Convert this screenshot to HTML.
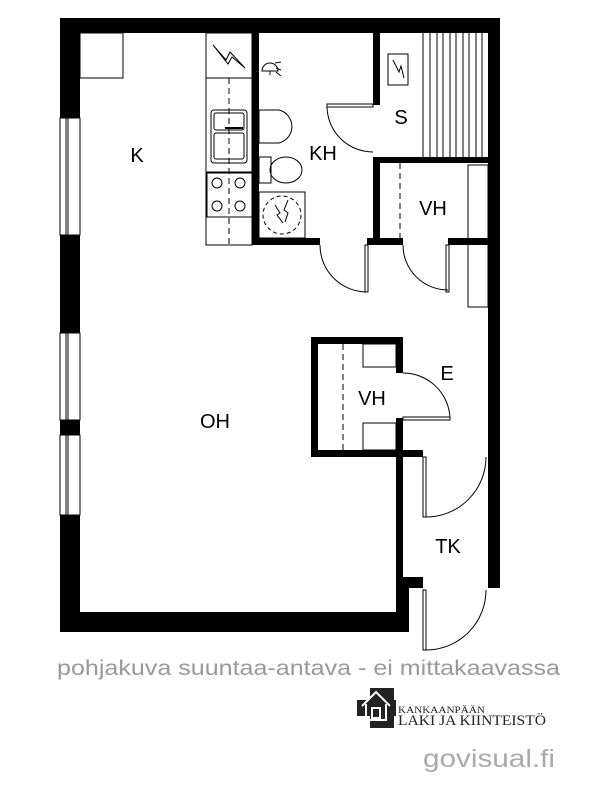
<!DOCTYPE html>
<html><head><meta charset="utf-8"><style>
html,body{margin:0;padding:0;background:#fff;}
svg{display:block;}
</style></head><body>
<svg width="600" height="796" viewBox="0 0 600 796" xmlns="http://www.w3.org/2000/svg" font-family="Liberation Sans, sans-serif">
<g fill="#000">
<rect x="60" y="18" width="440" height="15"/>
<rect x="60" y="18" width="20" height="614"/>
<rect x="488" y="18" width="12" height="570"/>
<rect x="60" y="612" width="349" height="20"/>
<rect x="396" y="450" width="7" height="182"/>
<rect x="403" y="588" width="6" height="44"/>
<rect x="403" y="577" width="20" height="11"/>
<rect x="403" y="450" width="20" height="7"/>
<rect x="252" y="33" width="7" height="212"/>
<rect x="252" y="238" width="68" height="7"/>
<rect x="367" y="238" width="36" height="7"/>
<rect x="448" y="238" width="40" height="7"/>
<rect x="373" y="33" width="7" height="72"/>
<rect x="373" y="157" width="115" height="6"/>
<rect x="373" y="157" width="7" height="88"/>
<rect x="311" y="337" width="92" height="7"/>
<rect x="311" y="450" width="92" height="7"/>
<rect x="311" y="337" width="7" height="120"/>
<rect x="396" y="337" width="7" height="36"/>
<rect x="396" y="418" width="7" height="39"/>
</g>
<g fill="#fff" stroke="#000" stroke-width="1">
<rect x="60" y="118" width="20" height="117"/>
<rect x="60" y="333" width="20" height="87"/>
<rect x="60" y="435" width="20" height="80"/>
</g>
<g stroke="#000" stroke-width="1">
<line x1="66" y1="118" x2="66" y2="235"/><line x1="68" y1="118" x2="68" y2="235"/>
<line x1="66" y1="333" x2="66" y2="420"/><line x1="68" y1="333" x2="68" y2="420"/>
<line x1="66" y1="435" x2="66" y2="515"/><line x1="68" y1="435" x2="68" y2="515"/>
</g>
<g fill="none" stroke="#000" stroke-width="1">
<rect x="80" y="33" width="43" height="45"/>
<rect x="206" y="33" width="46" height="212"/>
<line x1="206" y1="78" x2="252" y2="78"/>
<line x1="206" y1="172" x2="252" y2="172"/>
<line x1="206" y1="217" x2="252" y2="217"/>
<line x1="229" y1="78" x2="229" y2="245" stroke-dasharray="6,4"/>
<polyline points="213,45 226,60 230,52 245,68 232,57 228,64 213,45"/>
<rect x="211" y="110" width="36" height="53" rx="3"/>
<rect x="214" y="113" width="30" height="17" rx="2"/>
<rect x="214" y="133" width="30" height="26" rx="2"/>
<line x1="225" y1="128" x2="243" y2="128" stroke-width="2"/>
<rect x="207" y="173" width="45" height="44"/>
<circle cx="217" cy="183" r="5"/><circle cx="240" cy="183" r="5"/>
<circle cx="217" cy="206" r="5"/><circle cx="240" cy="206" r="5"/>
<path d="M262,71 a8,8 0 0 1 16,0 z"/>
<path d="M270,71 v4 M276,68 l5,2 M276,72 l5,4 M275,63 l6,-1"/>
<path d="M259,110 h20 a17,17 0 0 1 0,33 h-20 z"/>
<path d="M259,157 h12 v26 h-12 z"/>
<ellipse cx="286" cy="170" rx="16" ry="13"/>
<rect x="259" y="192" width="46" height="46"/>
<circle cx="282" cy="215" r="19" stroke-dasharray="4,3"/>
<path d="M275,205 l5,8 l-3,2 l6,8 M288,200 l-4,10 l4,3 l-3,9"/>
<rect x="388" y="54" width="20" height="31"/>
<polyline points="393,60 399,72 401,66 404,78"/>
<line x1="423" y1="33" x2="423" y2="157"/>
<line x1="430" y1="33" x2="430" y2="157"/>
<line x1="437" y1="33" x2="437" y2="157"/>
<line x1="443" y1="33" x2="443" y2="157"/>
<line x1="450" y1="33" x2="450" y2="157"/>
<line x1="456" y1="33" x2="456" y2="157"/>
<line x1="463" y1="33" x2="463" y2="157"/>
<line x1="469" y1="33" x2="469" y2="157"/>
<line x1="476" y1="33" x2="476" y2="157"/>
<line x1="482" y1="33" x2="482" y2="157"/>
<path d="M327,106 h46 M327,106 A46,46 0 0 0 373,152"/>
<rect x="327" y="104" width="46" height="3" fill="#fff"/>
<rect x="365" y="245" width="3" height="47" fill="#fff"/>
<path d="M320,245 A47,47 0 0 0 367,292"/>
<rect x="446" y="245" width="3" height="47" fill="#fff"/>
<path d="M403,245 A45,45 0 0 0 448,290"/>
<line x1="400" y1="163" x2="400" y2="238" stroke-dasharray="6,4"/>
<rect x="468" y="165" width="20" height="142"/>
<line x1="343" y1="344" x2="343" y2="450" stroke-dasharray="6,4"/>
<rect x="363" y="344" width="33" height="23"/>
<rect x="363" y="423" width="33" height="27"/>
<rect x="403" y="417" width="47" height="3" fill="#fff"/>
<path d="M450,418 A47,47 0 0 0 403,373"/>
<rect x="423" y="457" width="3" height="60" fill="#fff"/>
<path d="M426,517 A60,60 0 0 0 486,457"/>
<rect x="423" y="590" width="3" height="60" fill="#fff"/>
<path d="M426,650 A60,60 0 0 0 486,590"/>
</g>
<g font-size="20" fill="#000" text-anchor="middle">
<text x="137" y="162">K</text>
<text x="323" y="160">KH</text>
<text x="401" y="124">S</text>
<text x="433" y="215">VH</text>
<text x="215" y="428">OH</text>
<text x="372" y="405">VH</text>
<text x="447" y="380">E</text>
<text x="448" y="553">TK</text>
</g>
<text x="57" y="675" font-size="21" fill="#999" textLength="503" lengthAdjust="spacingAndGlyphs">pohjakuva suuntaa-antava - ei mittakaavassa</text>
<g fill="#222">
<rect x="370" y="688" width="24" height="40"/>
<rect x="357" y="700" width="39" height="16"/>
</g>
<g fill="none" stroke="#fff" stroke-width="2">
<path d="M362,706 L376,692 L390,706 M366,704 v16 h20 v-16 M372,708 h8 v10 h-8 z"/>
</g>
<text x="398" y="713" font-family="Liberation Serif, serif" font-size="9" fill="#222" textLength="87" lengthAdjust="spacingAndGlyphs">KANKAANPÄÄN</text>
<text x="398" y="725" font-family="Liberation Serif, serif" font-size="15" fill="#222" textLength="148" lengthAdjust="spacingAndGlyphs">LAKI JA KIINTEISTÖ</text>
<text x="423" y="767" font-size="25" fill="#aaa" textLength="132" lengthAdjust="spacingAndGlyphs">govisual.fi</text>
</svg>
</body></html>
